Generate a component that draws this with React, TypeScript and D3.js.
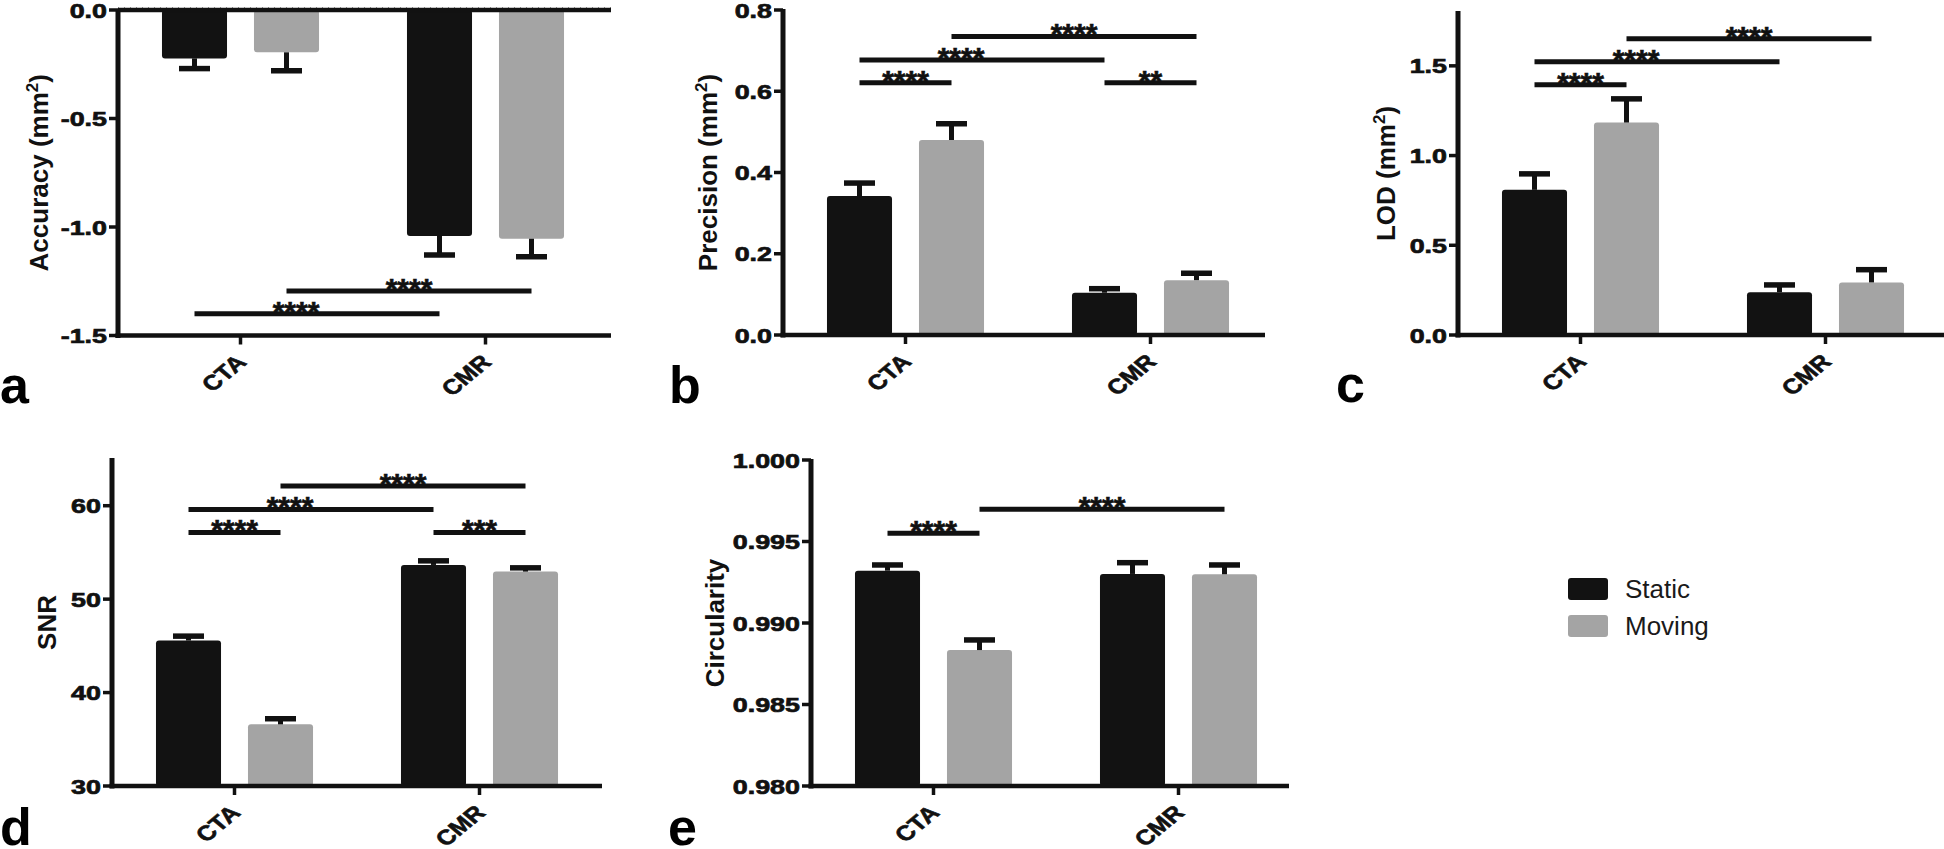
import React from 'react';
import * as d3 from 'd3';

// ---------- data ----------
const categories = ['CTA', 'CMR'];
const seriesNames = ['Static', 'Moving'];
const seriesColors = ['#121212', '#a4a4a4'];

// a: Accuracy (mm²)
const accuracyStatic = [-0.223, -1.041];
const accuracyMoving = [-0.195, -1.054];
const accuracyStaticErr = [0.047, 0.088];
const accuracyMovingErr = [0.085, 0.083];
const accuracyTicks = [0, -0.5, -1.0, -1.5];
const accuracyTickLabels = ['0.0', '-0.5', '-1.0', '-1.5'];
const accuracyComparisons = [
  { from: ['CTA', 'Static'], to: ['CMR', 'Static'], y: -1.4, label: '****' },
  { from: ['CTA', 'Moving'], to: ['CMR', 'Moving'], y: -1.295, label: '****' },
];

// b: Precision (mm²)
const precisionStatic = [0.342, 0.104];
const precisionMoving = [0.48, 0.135];
const precisionStaticErr = [0.032, 0.01];
const precisionMovingErr = [0.04, 0.017];
const precisionTicks = [0, 0.2, 0.4, 0.6, 0.8];
const precisionTickLabels = ['0.0', '0.2', '0.4', '0.6', '0.8'];
const precisionComparisons = [
  { from: ['CTA', 'Static'], to: ['CTA', 'Moving'], y: 0.621, label: '****' },
  { from: ['CMR', 'Static'], to: ['CMR', 'Moving'], y: 0.621, label: '**' },
  { from: ['CTA', 'Static'], to: ['CMR', 'Static'], y: 0.677, label: '****' },
  { from: ['CTA', 'Moving'], to: ['CMR', 'Moving'], y: 0.735, label: '****' },
];

// c: LOD (mm²)
const lodStatic = [0.809, 0.238];
const lodMoving = [1.184, 0.293];
const lodStaticErr = [0.089, 0.041];
const lodMovingErr = [0.132, 0.071];
const lodTicks = [0, 0.5, 1.0, 1.5];
const lodTickLabels = ['0.0', '0.5', '1.0', '1.5'];
const lodComparisons = [
  { from: ['CTA', 'Static'], to: ['CTA', 'Moving'], y: 1.394, label: '****' },
  { from: ['CTA', 'Static'], to: ['CMR', 'Static'], y: 1.523, label: '****' },
  { from: ['CTA', 'Moving'], to: ['CMR', 'Moving'], y: 1.651, label: '****' },
];

// d: SNR
const snrStatic = [45.57, 53.66];
const snrMoving = [36.6, 52.95];
const snrStaticErr = [0.47, 0.44];
const snrMovingErr = [0.6, 0.4];
const snrTicks = [30, 40, 50, 60];
const snrTickLabels = ['30', '40', '50', '60'];
const snrComparisons = [
  { from: ['CTA', 'Static'], to: ['CTA', 'Moving'], y: 57.14, label: '****' },
  { from: ['CMR', 'Static'], to: ['CMR', 'Moving'], y: 57.14, label: '***' },
  { from: ['CTA', 'Static'], to: ['CMR', 'Static'], y: 59.6, label: '****' },
  { from: ['CTA', 'Moving'], to: ['CMR', 'Moving'], y: 62.1, label: '****' },
];

// e: Circularity
const circStatic = [0.99321, 0.99301];
const circMoving = [0.98834, 0.99299];
const circStaticErr = [0.00035, 0.00069];
const circMovingErr = [0.00062, 0.00057];
const circTicks = [0.98, 0.985, 0.99, 0.995, 1.0];
const circTickLabels = ['0.980', '0.985', '0.990', '0.995', '1.000'];
const circComparisons = [
  { from: ['CTA', 'Static'], to: ['CTA', 'Moving'], y: 0.9955, label: '****' },
  { from: ['CTA', 'Moving'], to: ['CMR', 'Moving'], y: 0.99698, label: '****' },
];

// ---------- panels (data + layout) ----------
const panels = [
  {
    letter: 'a', title: 'Accuracy (mm', sup: '2', titleEnd: ')',
    domain: [-1.5, 0], ticks: accuracyTicks, tickLabels: accuracyTickLabels,
    values: [accuracyStatic, accuracyMoving], errs: [accuracyStaticErr, accuracyMovingErr],
    comps: accuracyComparisons,
    x0: 118, xEnd: 611, yTop: 10, yBot: 335.5, titleGap: 70,
    letterX: 0, letterY: 403, zeroLine: true,
  },
  {
    letter: 'b', title: 'Precision (mm', sup: '2', titleEnd: ')',
    domain: [0, 0.8], ticks: precisionTicks, tickLabels: precisionTickLabels,
    values: [precisionStatic, precisionMoving], errs: [precisionStaticErr, precisionMovingErr],
    comps: precisionComparisons,
    x0: 783, xEnd: 1265, yTop: 10, yBot: 335, titleGap: 66,
    letterX: 669, letterY: 403, zeroLine: false,
  },
  {
    letter: 'c', title: 'LOD (mm', sup: '2', titleEnd: ')',
    domain: [0, 1.8], ticks: lodTicks, tickLabels: lodTickLabels,
    values: [lodStatic, lodMoving], errs: [lodStaticErr, lodMovingErr],
    comps: lodComparisons,
    x0: 1458, xEnd: 1944, yTop: 12, yBot: 335, titleGap: 63,
    letterX: 1336, letterY: 402, zeroLine: false,
  },
  {
    letter: 'd', title: 'SNR', sup: '', titleEnd: '',
    domain: [30, 65], ticks: snrTicks, tickLabels: snrTickLabels,
    values: [snrStatic, snrMoving], errs: [snrStaticErr, snrMovingErr],
    comps: snrComparisons,
    x0: 112, xEnd: 602, yTop: 459, yBot: 786, titleGap: 56,
    letterX: 0, letterY: 845, zeroLine: false,
  },
  {
    letter: 'e', title: 'Circularity', sup: '', titleEnd: '',
    domain: [0.98, 1.0], ticks: circTicks, tickLabels: circTickLabels,
    values: [circStatic, circMoving], errs: [circStaticErr, circMovingErr],
    comps: circComparisons,
    x0: 811, xEnd: 1289, yTop: 460, yBot: 786, titleGap: 87,
    letterX: 668, letterY: 845, zeroLine: false,
  },
];

const FONT = 'Liberation Sans, Arial, Helvetica, sans-serif';
const INK = '#111111';
const TICK_STRETCH = 1.28;
const CAT_STRETCH = 1.2;

function Panel({ p }: { p: any }) {
  const y = d3.scaleLinear().domain(p.domain).range([p.yBot, p.yTop]);
  const xOuter = d3.scaleBand().domain(categories).range([p.x0, p.x0 + 490]);
  const xInner = d3
    .scaleBand()
    .domain(seriesNames)
    .range([0, xOuter.bandwidth()])
    .paddingInner(0.293)
    .paddingOuter(0.478);
  const bw = xInner.bandwidth();
  const base = Math.max(p.domain[0], Math.min(p.domain[1], 0));
  const yBase = y(base);
  const center = (cat: string, s: string) => (xOuter(cat) as number) + (xInner(s) as number) + bw / 2;
  const capW = 31;
  const bottomAxisY = p.yBot;
  const midY = (p.yTop + p.yBot) / 2;

  const bars: any[] = [];
  const errs: any[] = [];
  seriesNames.forEach((s, si) => {
    categories.forEach((cat, ci) => {
      const v = p.values[si][ci];
      const e = p.errs[si][ci];
      const x = (xOuter(cat) as number) + (xInner(s) as number);
      const yv = y(v);
      const top = Math.min(yv, yBase);
      const h = Math.abs(yv - yBase);
      bars.push(
        <rect key={`b-${s}-${cat}`} x={x} y={top} width={bw} height={h} rx={3} ry={3} fill={seriesColors[si]} />
      );
      const sign = v >= base ? 1 : -1;
      const yc = y(v + sign * e);
      const cx = x + bw / 2;
      errs.push(
        <g key={`e-${s}-${cat}`}>
          <line x1={cx} x2={cx} y1={yv} y2={yc} stroke={INK} strokeWidth={5} />
          <line x1={cx - capW / 2} x2={cx + capW / 2} y1={yc} y2={yc} stroke={INK} strokeWidth={5.5} />
        </g>
      );
    });
  });

  const labelDx = (c: any) =>
    c.from[0] !== c.to[0] && c.from[1] === 'Static' && c.to[1] === 'Static' ? -21 : 0;

  return (
    <g>
      {bars}
      {errs}
      {p.zeroLine && (
        <g>
          <line x1={p.x0} x2={p.xEnd} y1={y(0)} y2={y(0)} stroke={INK} strokeWidth={4.5} />
          <line x1={p.x0} x2={p.xEnd} y1={y(0) - 2.5} y2={y(0) - 2.5} stroke="#777" strokeWidth={1} strokeDasharray="1,5" />
        </g>
      )}
      {/* y axis */}
      <line x1={p.x0} x2={p.x0} y1={p.yTop - 1} y2={p.yBot + 2.5} stroke={INK} strokeWidth={5} />
      {p.ticks.map((t: number, i: number) => (
        <g key={`yt-${i}`}>
          <line x1={p.x0 - 9} x2={p.x0} y1={y(t)} y2={y(t)} stroke={INK} strokeWidth={3.5} />
          <text
            transform={`translate(${p.x0 - 11},${y(t)}) scale(${TICK_STRETCH},1)`}
            dy="0.36em"
            textAnchor="end"
            fontFamily={FONT}
            fontWeight="bold"
            fontSize={21}
            fill={INK}
            stroke={INK}
            strokeWidth={0.7}
          >
            {p.tickLabels[i]}
          </text>
        </g>
      ))}
      {/* x axis */}
      <line x1={p.x0 - 2.5} x2={p.xEnd} y1={bottomAxisY} y2={bottomAxisY} stroke={INK} strokeWidth={4.5} />
      {categories.map((cat) => {
        const cx = (xOuter(cat) as number) + xOuter.bandwidth() / 2;
        return (
          <g key={`xt-${cat}`}>
            <line x1={cx} x2={cx} y1={bottomAxisY} y2={bottomAxisY + 9} stroke={INK} strokeWidth={3.5} />
            <text
              transform={`translate(${cx + 7},${bottomAxisY + 28}) scale(${CAT_STRETCH},1) rotate(-45)`}
              textAnchor="end"
              fontFamily={FONT}
              fontWeight="bold"
              fontSize={21}
              fill={INK}
              stroke={INK}
              strokeWidth={0.6}
            >
              {cat}
            </text>
          </g>
        );
      })}
      {/* y title */}
      <text
        transform={`translate(${p.x0 - p.titleGap},${midY}) rotate(-90)`}
        textAnchor="middle"
        fontFamily={FONT}
        fontWeight="bold"
        fontSize={26}
        fill={INK}
      >
        {p.title}
        {p.sup && (
          <tspan fontSize={17} dy={-10}>
            {p.sup}
          </tspan>
        )}
        {p.titleEnd && <tspan dy={p.sup ? 10 : 0}>{p.titleEnd}</tspan>}
      </text>
      {/* significance */}
      {p.comps.map((c: any, i: number) => {
        const xa = center(c.from[0], c.from[1]);
        const xb = center(c.to[0], c.to[1]);
        const yy = y(c.y);
        return (
          <g key={`c-${i}`}>
            <line x1={xa} x2={xb} y1={yy} y2={yy} stroke={INK} strokeWidth={5} />
            <text
              x={(xa + xb) / 2 + labelDx(c)}
              y={yy + 8}
              textAnchor="middle"
              fontFamily={FONT}
              fontWeight="bold"
              fontSize={30}
              fill={INK}
              stroke={INK}
              strokeWidth={0.6}
            >
              {c.label}
            </text>
          </g>
        );
      })}
      {/* panel letter */}
      <text x={p.letterX} y={p.letterY} fontFamily={FONT} fontWeight="bold" fontSize={52} fill="#000">
        {p.letter}
      </text>
    </g>
  );
}

export default function App() {
  const legendX = 1568;
  const legendY = [578, 615];
  return (
    <svg
      width={1944}
      height={849}
      viewBox="0 0 1944 849"
      style={{ position: 'absolute', left: 0, top: 0, display: 'block', background: '#fff' }}
    >
      <rect x={0} y={0} width={1944} height={849} fill="#fff" />
      {panels.map((p) => (
        <Panel key={p.letter} p={p} />
      ))}
      {seriesNames.map((s, i) => (
        <g key={`lg-${s}`}>
          <rect x={legendX} y={legendY[i]} width={40} height={22} rx={3} ry={3} fill={seriesColors[i]} />
          <text
            x={legendX + 57}
            y={legendY[i] + 11}
            dy="0.36em"
            fontFamily={FONT}
            fontSize={26}
            fill="#1a1a1a"
          >
            {s}
          </text>
        </g>
      ))}
    </svg>
  );
}
